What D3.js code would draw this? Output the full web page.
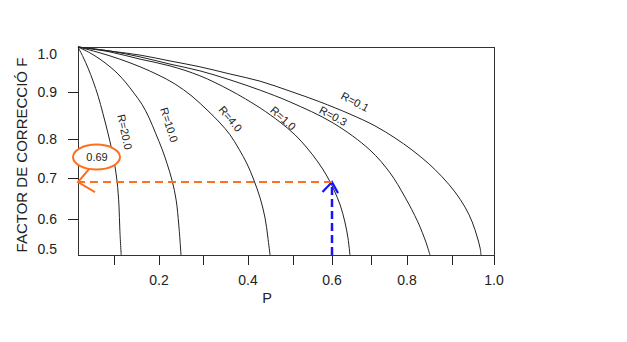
<!DOCTYPE html>
<html><head><meta charset="utf-8">
<script src="https://cdn.jsdelivr.net/npm/d3@7"></script>
<style>
body{margin:0;background:#fff}
svg{display:block}
text{font-family:"Liberation Sans",Arial,Helvetica,sans-serif;fill:#222}
</style>
</head><body>
<svg id="chart" width="627" height="342"></svg>
<script>
// ---------------- data ----------------
const seriesNames = ["R=20.0", "R=10.0", "R=4.0", "R=1.0", "R=0.3", "R=0.1"];

const pR20 = [0, 0.014, 0.028, 0.042, 0.056, 0.069, 0.083, 0.094, 0.102, 0.107, 0.111, 0.113, 0.116];
const fR20 = [1.0, 0.978, 0.953, 0.924, 0.891, 0.855, 0.813, 0.772, 0.731, 0.690, 0.634, 0.569, 0.5];

const pR10 = [0, 0.033, 0.061, 0.089, 0.109, 0.127, 0.144, 0.162, 0.178, 0.193, 0.207, 0.218, 0.230, 0.239, 0.245, 0.25];
const fR10 = [1.0, 0.987, 0.973, 0.956, 0.940, 0.920, 0.898, 0.874, 0.845, 0.811, 0.774, 0.738, 0.693, 0.646, 0.583, 0.5];

const pR4 = [0, 0.061, 0.113, 0.158, 0.198, 0.236, 0.275, 0.311, 0.338, 0.360, 0.380, 0.398, 0.413, 0.427, 0.438, 0.444, 0.449];
const fR4 = [1.0, 0.987, 0.973, 0.956, 0.938, 0.918, 0.891, 0.860, 0.834, 0.809, 0.774, 0.736, 0.695, 0.651, 0.602, 0.550, 0.5];

const pR1 = [0, 0.089, 0.158, 0.225, 0.293, 0.36, 0.427, 0.471, 0.505, 0.536, 0.564, 0.587, 0.605, 0.621, 0.633, 0.641, 0.646];
const fR1 = [1.0, 0.989, 0.973, 0.958, 0.936, 0.904, 0.866, 0.836, 0.809, 0.777, 0.741, 0.705, 0.671, 0.634, 0.592, 0.547, 0.5];

const pR03 = [0, 0.089, 0.158, 0.225, 0.293, 0.36, 0.427, 0.493, 0.603, 0.697, 0.753, 0.794, 0.824, 0.842, 0.851];
const fR03 = [1.0, 0.991, 0.978, 0.962, 0.947, 0.927, 0.904, 0.879, 0.834, 0.772, 0.713, 0.654, 0.592, 0.536, 0.5];

const pR01 = [0, 0.089, 0.158, 0.225, 0.293, 0.36, 0.427, 0.493, 0.569, 0.646, 0.711, 0.767, 0.811, 0.847, 0.878, 0.907, 0.931, 0.948, 0.960, 0.967, 0.969];
const fR01 = [1.0, 0.991, 0.982, 0.969, 0.956, 0.940, 0.924, 0.902, 0.879, 0.853, 0.828, 0.802, 0.772, 0.738, 0.703, 0.666, 0.629, 0.592, 0.550, 0.519, 0.5];

// curve label anchor points (data units)
const labelP = [0.124, 0.223, 0.361, 0.478, 0.603, 0.659];
const labelF = [0.815, 0.830, 0.843, 0.844, 0.849, 0.879];

// axes
const xTickValues = [0.1, 0.2, 0.3, 0.4, 0.5, 0.6, 0.7, 0.8, 0.9, 1.0];
const xLabelValues = [0.2, 0.4, 0.6, 0.8, 1.0];
const xLabelTexts = ["0.2", "0.4", "0.6", "0.8", "1.0"];
const yTickValues = [0.9, 0.8, 0.7, 0.6];
const yLabelValues = [1.0, 0.9, 0.8, 0.7, 0.6, 0.5];
const yLabelTexts = ["1.0", "0.9", "0.8", "0.7", "0.6", "0.5"];
const xTitle = "P";
const yTitle = "FACTOR DE CORRECCIÓ F";

// reading example
const annotP = 0.6;
const annotF = 0.69;
const annotText = "0.69";

// ---------------- layout (hand-drawn, non-uniform axes) ----------------
const X_DOMAIN = [0, 0.1, 0.2, 0.3, 0.4, 0.5, 0.6, 0.7, 0.8, 0.9, 1.0];
const X_RANGE  = [78, 114, 159, 203, 248, 293, 332, 371, 407, 452, 494];
const Y_DOMAIN = [1.0, 0.9, 0.8, 0.7, 0.6, 0.5];
const Y_RANGE  = [47, 92, 139, 178, 219, 255];
const LABEL_ANGLES = [78, 72, 50, 42, 28, 28];

const INK = "#222";
const ORANGE = "#ff6f1f";
const BLUE = "#1414ff";

const x = d3.scaleLinear().domain(X_DOMAIN).range(X_RANGE);
const y = d3.scaleLinear().domain(Y_DOMAIN).range(Y_RANGE);

const svg = d3.select("#chart");

const series = [
  {name: seriesNames[0], p: pR20, f: fR20},
  {name: seriesNames[1], p: pR10, f: fR10},
  {name: seriesNames[2], p: pR4,  f: fR4},
  {name: seriesNames[3], p: pR1,  f: fR1},
  {name: seriesNames[4], p: pR03, f: fR03},
  {name: seriesNames[5], p: pR01, f: fR01}
].map((s, i) => ({...s, pts: s.p.map((v, j) => [v, s.f[j]]), lp: labelP[i], lf: labelF[i], ang: LABEL_ANGLES[i]}));

const x0 = x(0), x1 = x(1), yTop = y(1.0), yBot = y(0.5);

// axes ticks
const xAxis = d3.axisBottom(x).tickValues(xTickValues).tickSize(10).tickFormat("");
svg.append("g").attr("transform", `translate(0,${yBot})`).call(xAxis)
  .call(g => g.select(".domain").remove())
  .call(g => g.selectAll("line").attr("stroke", INK));

const yAxis = d3.axisLeft(y).tickValues(yTickValues).tickSize(10).tickFormat("");
svg.append("g").attr("transform", `translate(${x0},0)`).call(yAxis)
  .call(g => g.select(".domain").remove())
  .call(g => g.selectAll("line").attr("stroke", INK));

// frame
svg.append("rect").attr("x", x0 + 0.5).attr("y", yTop + 0.5)
  .attr("width", x1 - x0).attr("height", yBot - yTop)
  .attr("fill", "none").attr("stroke", "#333").attr("stroke-width", 1);

// tick labels
svg.append("g").selectAll("text").data(xLabelValues).join("text")
  .attr("x", d => x(d)).attr("y", yBot + 30)
  .attr("text-anchor", "middle").attr("font-size", 14)
  .text((d, i) => xLabelTexts[i]);

svg.append("g").selectAll("text").data(yLabelValues).join("text")
  .attr("x", x0 - 21).attr("y", d => Math.max(yTop + 7, Math.min(yBot - 6, y(d))))
  .attr("dy", "0.36em")
  .attr("text-anchor", "end").attr("font-size", 14)
  .text((d, i) => yLabelTexts[i]);

// axis titles
svg.append("text").attr("x", 267).attr("y", 303).attr("text-anchor", "middle")
  .attr("font-size", 14.5).text(xTitle);
svg.append("text").attr("transform", `translate(27,155) rotate(-90)`)
  .attr("text-anchor", "middle").attr("font-size", 15).text(yTitle);

// curves
const line = d3.line().x(d => x(d[0])).y(d => y(d[1])).curve(d3.curveCatmullRom.alpha(0.5));
svg.append("g").selectAll("path").data(series).join("path")
  .attr("d", d => line(d.pts))
  .attr("fill", "none").attr("stroke", INK).attr("stroke-width", 1);

// curve labels
svg.append("g").selectAll("text").data(series).join("text")
  .attr("transform", d => `translate(${x(d.lp)},${y(d.lf)}) rotate(${d.ang})`)
  .attr("text-anchor", "middle").attr("dy", "0.35em")
  .attr("font-size", 11).text(d => d.name);

// ---------------- reading annotation ----------------
const ax = x(annotP), ay = y(annotF);

// blue vertical dashed line + arrow head
svg.append("line").attr("x1", ax).attr("x2", ax).attr("y1", yBot).attr("y2", ay + 2)
  .attr("stroke", BLUE).attr("stroke-width", 2.5).attr("stroke-dasharray", "8,4");
svg.append("path")
  .attr("d", d3.line()([[ax - 9.5, ay + 10], [ax, ay], [ax + 6, ay + 11]]))
  .attr("fill", "none").attr("stroke", BLUE).attr("stroke-width", 2.2);

// orange horizontal dashed line + arrow head
svg.append("line").attr("x1", ax).attr("x2", x0 + 1).attr("y1", ay).attr("y2", ay)
  .attr("stroke", ORANGE).attr("stroke-width", 2).attr("stroke-dasharray", "8,5");
svg.append("path")
  .attr("d", d3.line()([[x0 + 11, ay - 13], [x0, ay], [x0 + 17, ay + 10]]))
  .attr("fill", "none").attr("stroke", ORANGE).attr("stroke-width", 2);

// value bubble
svg.append("ellipse").attr("cx", x0 + 18.5).attr("cy", ay - 25)
  .attr("rx", 23.5).attr("ry", 12.5)
  .attr("fill", "#fff").attr("stroke", ORANGE).attr("stroke-width", 2);
svg.append("text").attr("x", x0 + 19).attr("y", ay - 25).attr("dy", "0.36em")
  .attr("text-anchor", "middle").attr("font-size", 11).text(annotText);
</script>
</body></html>
